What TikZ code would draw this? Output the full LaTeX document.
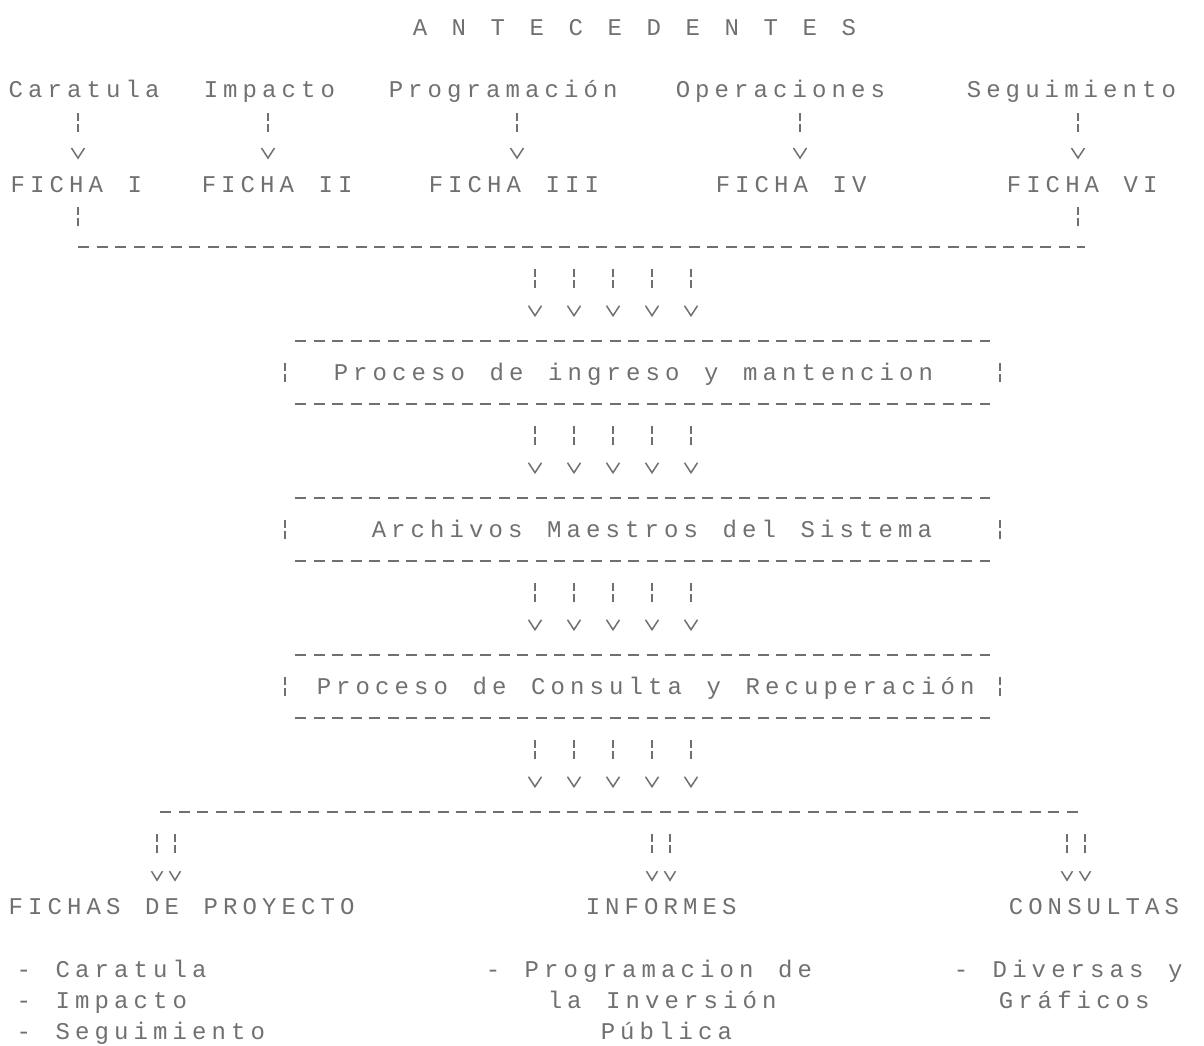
\documentclass[tikz,border=0pt]{standalone}
\usepackage{fontspec}
\usepackage{tikz}
\usetikzlibrary{arrows.meta,calc}
\newfontfamily\dotfont{Liberation Mono}
\definecolor{ink}{RGB}{112,112,112}

% one character per printer cell
\ExplSyntaxOn
\cs_new_protected:Npn \dot_line:nn #1#2 { \str_map_inline:nn {#2} { \makebox[#1][c]{##1} } }
\cs_generate_variant:Nn \dot_line:nn { ne }
\NewDocumentCommand \dotline { O{19.5pt} m } { \dot_line:ne {#1} {#2} }
\ExplSyntaxOff

\begin{document}
\begin{tikzpicture}[x=1pt,y=-1pt,
    txt/.style={anchor=west,inner sep=0pt,text height=16pt,text depth=0pt,
                text=ink,font=\dotfont\fontsize{24}{24}\selectfont},
    dashline/.style={ink,line width=1.8pt,dash pattern=on 11pt off 7.5pt},
    bar/.style={ink,line width=1.5pt,dash pattern=on 8pt off 3pt on 8pt off 200pt},
    varrow/.style={bar,-{Straight Barb[length=10pt,width=13pt,line width=1.5pt]},
                   shorten <=22pt,shorten >=23.9pt}]
\useasboundingbox (0,0) rectangle (1204,1045);

% Title
\node[txt] (title) at (410,27) {\dotline{A N T E C E D E N T E S}};

% Sources and fichas
\foreach \name/\x/\label in {car/6/Caratula, imp/201/Impacto, prog/386/Programación,
                             oper/673/Operaciones, segu/964/Seguimiento}
    \node[txt] (\name) at (\x,89.8) {\dotline{\label}};
\foreach \name/\x/\label in {f1/8/FICHA I, f2/199/FICHA II, f3/426/FICHA III,
                             f4/713/FICHA IV, f6/1004/FICHA VI}
    \node[txt] (\name) at (\x,184) {\dotline{\label}};

\foreach \src/\dst/\x in {car/f1/78, imp/f2/268, prog/f3/517, oper/f4/800, segu/f6/1078}
    \draw[varrow,shorten <=15pt,shorten >=16.4pt] (\src.south -| \x,0) -- (\dst.north -| \x,0);

% Collecting line
\coordinate (bus1) at (0,246.8);
\foreach \src/\x in {f1/78, f6/1078}
    \draw[bar,shorten <=15pt] (\src.south -| \x,0) -- (bus1 -| \x,0);
\draw[dashline] ($(bus1)+(78,0)$) -- ($(bus1)+(1085,0)$);

% Process boxes
\foreach \name/\x/\r/\label in {proc/331/372.4/Proceso de ingreso y mantencion,
                                arch/369/529.4/Archivos Maestros del Sistema,
                                cons/314/686.4/Proceso de Consulta y Recuperación}
{
    \node[txt] (\name) at (\x,\r) {\dotline{\label}};
    \coordinate (\name-top) at (0,\r-31.4);
    \coordinate (\name-bot) at (0,\r+31.4);
    \draw[dashline] ($(\name-top)+(295,0)$) -- ($(\name-top)+(990,0)$);
    \draw[dashline] ($(\name-bot)+(295,0)$) -- ($(\name-bot)+(990,0)$);
    \draw[bar] (285,\r-9) -- (285,\r+10);
    \draw[bar] (1000,\r-9) -- (1000,\r+10);
}

\coordinate (bus2) at (0,812);
\foreach \a/\b in {bus1/proc-top, proc-bot/arch-top, arch-bot/cons-top, cons-bot/bus2}
    \foreach \x in {535,574,613,652,691}
        \draw[varrow] ($(\a)+(\x,0)$) -- ($(\b)+(\x,0)$);

% Outputs
\draw[dashline] ($(bus2)+(160,0)$) -- ($(bus2)+(1085,0)$);
\foreach \name/\x/\label in {fichas/6/FICHAS DE PROYECTO, inf/583/INFORMES, consul/1006/CONSULTAS}
    \node[txt] (\name) at (\x,906.2) {\dotline{\label}};
\foreach \dst/\x in {fichas/157, fichas/175, inf/652, inf/670, consul/1067, consul/1085}
    \draw[varrow,-{Straight Barb[length=9pt,width=11pt,line width=1.5pt]},shorten >=16.4pt]
        ($(bus2)+(\x,0)$) -- (\dst.north -| \x,0);

% Contents
\foreach \name/\x/\y/\label in {a1/14/969/- Caratula, a2/14/1000.4/- Impacto, a3/14/1031.8/- Seguimiento,
                                b1/483/969/- Programacion de, b2/545/1000.4/la Inversión, b3/598/1031.8/Pública,
                                c1/951/969/- Diversas y, c2/996/1000.4/Gráficos}
    \node[txt] (\name) at (\x,\y) {\dotline{\label}};
\end{tikzpicture}
\end{document}
